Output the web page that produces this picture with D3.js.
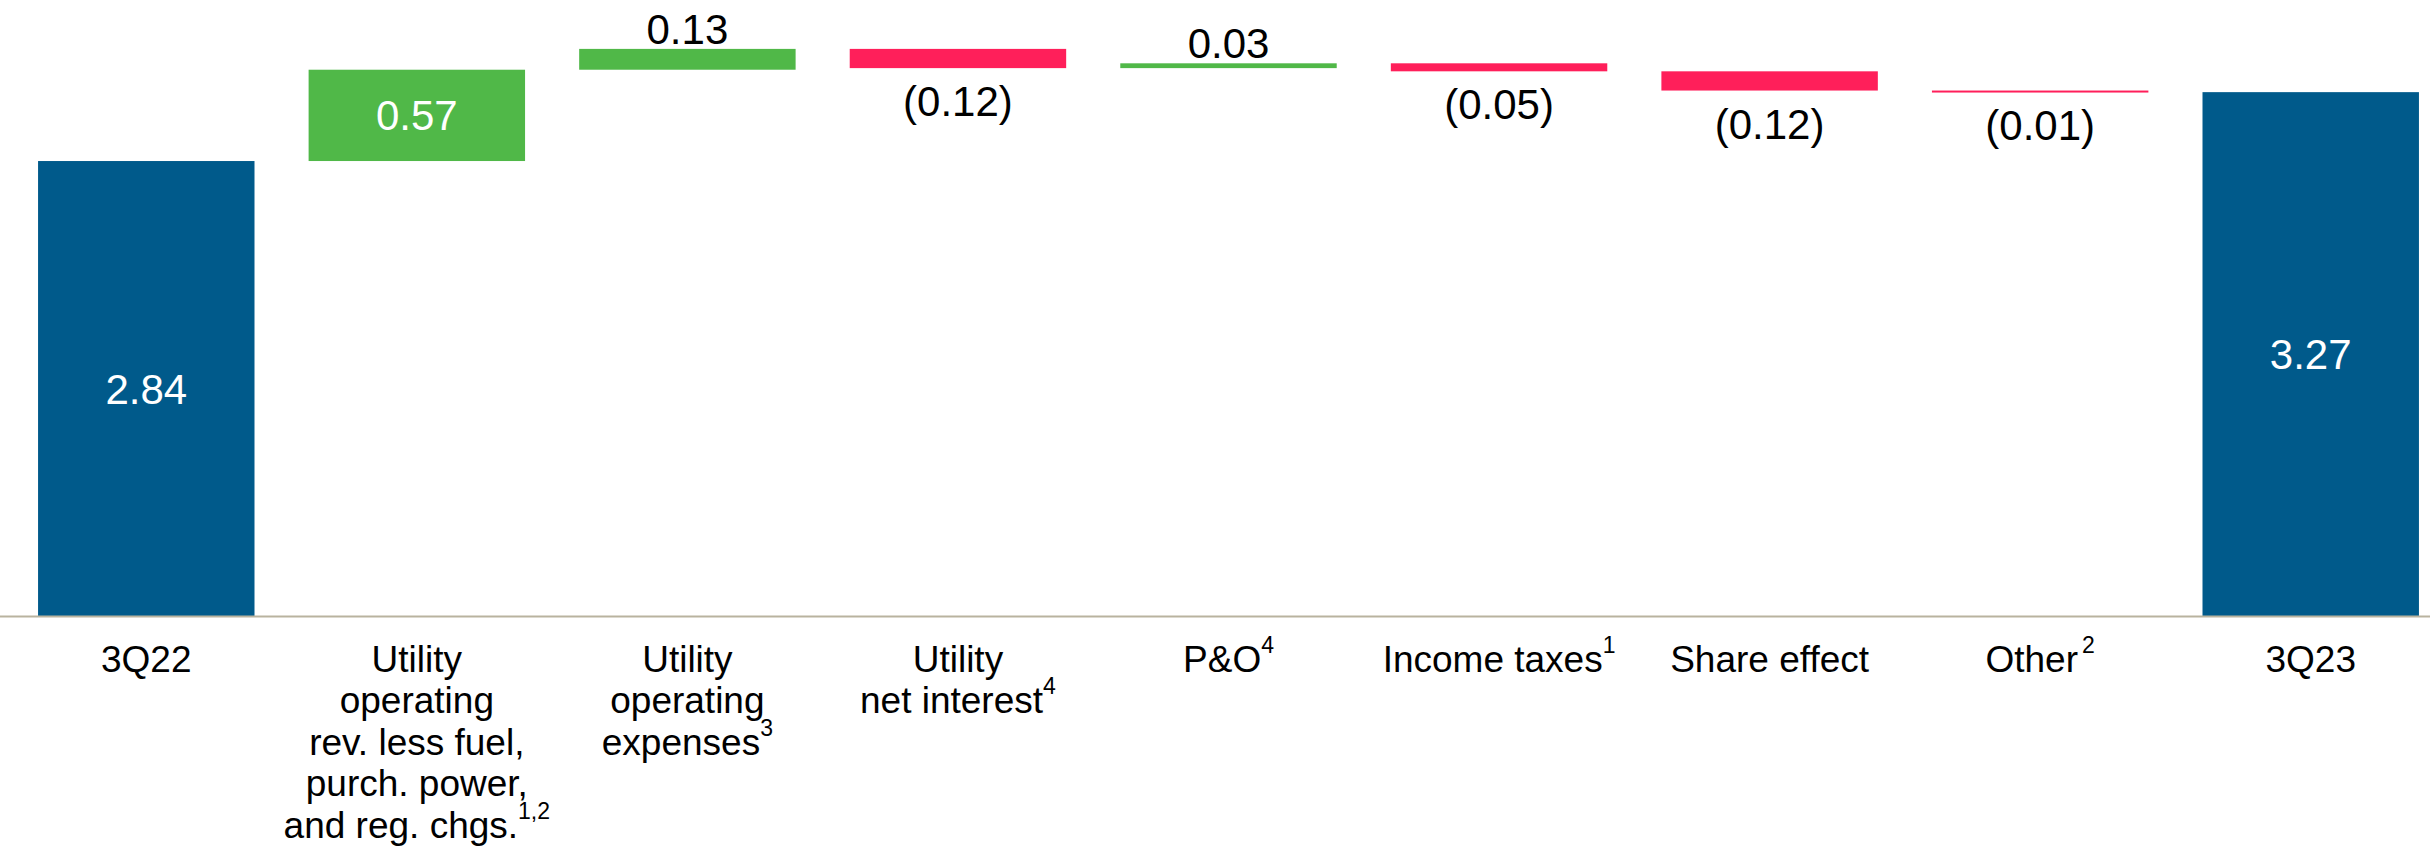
<!DOCTYPE html>
<html>
<head>
<meta charset="utf-8">
<script src="https://cdn.jsdelivr.net/npm/d3@7"></script>
<style>
  html, body { margin: 0; padding: 0; background: #ffffff; }
  svg { display: block; }
  text { font-family: "Liberation Sans", Arial, sans-serif; }
</style>
</head>
<body>
<svg id="chart" width="2430" height="849"></svg>
<script>
// ---- Data ----
const categories = ["3Q22", "Utility operating rev. less fuel, purch. power, and reg. chgs.", "Utility operating expenses", "Utility net interest", "P&O", "Income taxes", "Share effect", "Other", "3Q23"];
const values = [2.84, 0.57, 0.13, -0.12, 0.03, -0.05, -0.12, -0.01, 3.27];
const kinds = ["total", "delta", "delta", "delta", "delta", "delta", "delta", "delta", "total"];
const valueLabels = ["2.84", "0.57", "0.13", "(0.12)", "0.03", "(0.05)", "(0.12)", "(0.01)", "3.27"];
const labelLines = [
  ["3Q22"],
  ["Utility", "operating", "rev. less fuel,", "purch. power,", "and reg. chgs."],
  ["Utility", "operating", "expenses"],
  ["Utility", "net interest"],
  ["P&O"],
  ["Income taxes"],
  ["Share effect"],
  ["Other"],
  ["3Q23"]
];
const footnotes = ["", "1,2", "3", "4", "4", "1", "", "2", ""];

// ---- Layout ----
const W = 2430, H = 849;
const baseY = 616;
const colors = { total: "#005a8b", up: "#50b848", down: "#ff1f5a" };

const svg = d3.select("#chart");

const x = d3.scaleBand()
  .domain(categories)
  .range([11, 2446])
  .paddingInner(0.2)
  .paddingOuter(0.1);

const y = d3.scaleLinear()
  .domain([0, 3.84])
  .range([baseY, baseY - 3.84 * 160.2]);

// build waterfall segments
let running = 0;
const bars = categories.map((c, i) => {
  let start, end;
  if (kinds[i] === "total") { start = 0; end = values[i]; running = values[i]; }
  else { start = running; end = running + values[i]; running = end; }
  const type = kinds[i] === "total" ? "total" : (values[i] >= 0 ? "up" : "down");
  return { cat: c, start, end, type, label: valueLabels[i], value: values[i] };
});

// bars
svg.append("g").selectAll("rect")
  .data(bars)
  .join("rect")
  .attr("x", d => x(d.cat))
  .attr("width", x.bandwidth())
  .attr("y", d => y(Math.max(d.start, d.end)))
  .attr("height", d => Math.max(2, Math.abs(y(d.start) - y(d.end))))
  .attr("fill", d => colors[d.type]);

// axis baseline
const axis = svg.append("g")
  .attr("transform", `translate(0,${baseY + 0.5})`)
  .call(d3.axisBottom(x).tickSize(0).tickSizeOuter(0).tickFormat(""));
axis.select(".domain")
  .attr("d", `M0,0H${W}`)
  .attr("stroke", "#b9b39f")
  .attr("stroke-width", 2.2);
axis.selectAll(".tick").remove();

// value labels
const vl = svg.append("g");
bars.forEach(d => {
  const top = y(Math.max(d.start, d.end));
  const bot = y(Math.min(d.start, d.end));
  const cx = x(d.cat) + x.bandwidth() / 2;
  const inside = (bot - top) > 60;
  const t = vl.append("text")
    .attr("x", cx)
    .attr("text-anchor", "middle")
    .attr("font-size", 42)
    .text(d.label);
  if (inside) {
    t.attr("y", (top + bot) / 2 + 15).attr("fill", "#ffffff");
  } else if (d.value >= 0) {
    t.attr("y", top - 5).attr("fill", "#000000");
  } else {
    t.attr("y", bot + 48).attr("fill", "#000000");
  }
});

// category labels
const cl = svg.append("g");
const lineH = 41.4;
const firstBase = 672;
categories.forEach((c, i) => {
  const cx = x(c) + x.bandwidth() / 2;
  const lines = labelLines[i];
  lines.forEach((ln, j) => {
    const t = cl.append("text")
      .attr("x", cx)
      .attr("y", firstBase + j * lineH)
      .attr("text-anchor", "middle")
      .attr("font-size", 37)
      .attr("fill", "#000000");
    t.append("tspan").text(ln);
    if (j === lines.length - 1 && footnotes[i]) {
      t.append("tspan")
        .attr("font-size", 23)
        .attr("dy", -19)
        .attr("dx", c === "Other" ? 4 : 0)
        .text(footnotes[i]);
    }
  });
});
</script>
</body>
</html>
